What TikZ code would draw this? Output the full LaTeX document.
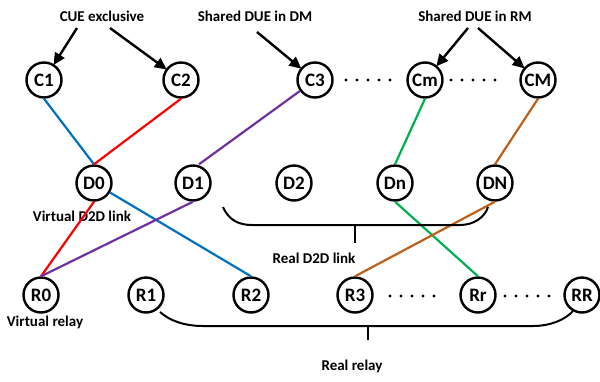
\documentclass[tikz,border=0pt]{standalone}
\usepackage{fontspec}
\setmainfont{Carlito}
\usetikzlibrary{arrows.meta}
\definecolor{lnblue}{RGB}{0,112,192}
\definecolor{lnred}{RGB}{255,0,0}
\definecolor{lnpurple}{RGB}{112,48,160}
\definecolor{lngreen}{RGB}{0,176,80}
\definecolor{lnbrown}{RGB}{190,95,25}
\tikzset{
  ue/.style={circle, draw=black, line width=2.4pt, minimum size=35pt, inner sep=0pt,
             font=\fontsize{19}{19}\selectfont\bfseries},
  lbl/.style={font=\fontsize{15}{15}\selectfont\bfseries, inner sep=1pt},
  arr/.style={line width=2.4pt, -{Triangle[length=12pt,width=11pt]}, shorten >=-1pt},
  link/.style={line width=2.2pt},
  brace/.style={line width=2pt},
  dots/.style={circle, fill=black, inner sep=0pt, minimum size=3.4pt}
}
\begin{document}
\begin{tikzpicture}[x=1pt,y=-1pt]
\useasboundingbox (0,0) rectangle (600,381);

% cellular users
\node[ue] (C1) at (44,80) {C1};
\node[ue] (C2) at (181,80) {C2};
\node[ue] (C3) at (315,80) {C3};
\node[ue] (Cm) at (425,80) {Cm};
\node[ue] (CM) at (538,80) {CM};

% D2D pairs
\node[ue] (D0) at (94,183) {D0};
\node[ue] (D1) at (193,183) {D1};
\node[ue] (D2) at (294,183) {D2};
\node[ue] (Dn) at (395,183) {Dn};
\node[ue] (DN) at (495,183) {DN};

% relays
\node[ue] (R0) at (41,295) {R0};
\node[ue] (R1) at (146,295) {R1};
\node[ue] (R2) at (251,295) {R2};
\node[ue] (R3) at (355,295) {R3};
\node[ue] (Rr) at (478,295) {Rr};
\node[ue] (RR) at (582,295) {RR};

% group labels
\node[lbl] (cue) at (102,16) {CUE exclusive};
\node[lbl] (sdm) at (255,16) {Shared DUE in DM};
\node[lbl] (srm) at (475,16) {Shared DUE in RM};
\node[lbl] (vd2d) at (82,216) {Virtual D2D link};
\node[lbl] (vrel) at (45,322) {Virtual relay};
\node[lbl] (rd2d) at (314,258) {Real D2D link};
\node[lbl] (rrel) at (352,366) {Real relay};

% arrows from the group labels
\coordinate (a1) at (77,28);
\coordinate (a2) at (110,28);
\coordinate (a3) at (257,32);
\coordinate (a4) at (468,28);
\coordinate (a5) at (478,28);
\draw[arr] (a1) -- (C1);
\draw[arr] (a2) -- (C2);
\draw[arr] (a3) -- (C3);
\draw[arr] (a4) -- (Cm);
\draw[arr] (a5) -- (CM);

% ellipsis dots
\foreach \x in {346,357,368,379,390} \node[dots] (dA\x) at (\x,80) {};
\foreach \x in {451,462,473,484,495} \node[dots] (dB\x) at (\x,80) {};
\foreach \x in {390,401,412,423,434} \node[dots] (dC\x) at (\x,296) {};
\foreach \x in {505,516,527,538,549} \node[dots] (dD\x) at (\x,296) {};

% links
\draw[link, lnblue] (C1.south) -- (D0.north);
\draw[link, lnred] (C2.south) -- (D0.north);
\draw[link, lnred] (D0.south) -- (R0.north);
\draw[link, lnblue] (D0) -- (R2.north);
\draw[link, lnpurple] (C3) -- ([xshift=6pt]D1.north);
\draw[link, lnpurple] (D1.south) -- (R0.north);
\draw[link, lngreen] (Cm.south) -- (Dn.north);
\draw[link, lngreen] (Dn.south) -- (Rr.north);
\draw[link, lnbrown] (CM.south) -- (DN.north);
\draw[link, lnbrown] (DN.south) -- (R3.north);

% brace grouping the real D2D pairs
\coordinate (b1) at (223,207);
\coordinate (b2) at (488,207);
\coordinate (bt) at (355,225);
\coordinate (bm) at (355,243);
\draw[brace] (b1) .. controls (229,221) and (240,225) .. (252,225) -- (460,225)
  .. controls (474,225) and (485,217) .. (b2);
\draw[brace] (bt) -- (bm);

% brace grouping the real relays
\coordinate (c1) at (160,312);
\coordinate (c2) at (573,311);
\coordinate (ct) at (368,326);
\coordinate (cm) at (368,340);
\draw[brace] (c1) .. controls (170,321) and (185,326) .. (203,326) -- (533,326)
  .. controls (550,326) and (565,320) .. (c2);
\draw[brace] (ct) -- (cm);
\end{tikzpicture}
\end{document}
